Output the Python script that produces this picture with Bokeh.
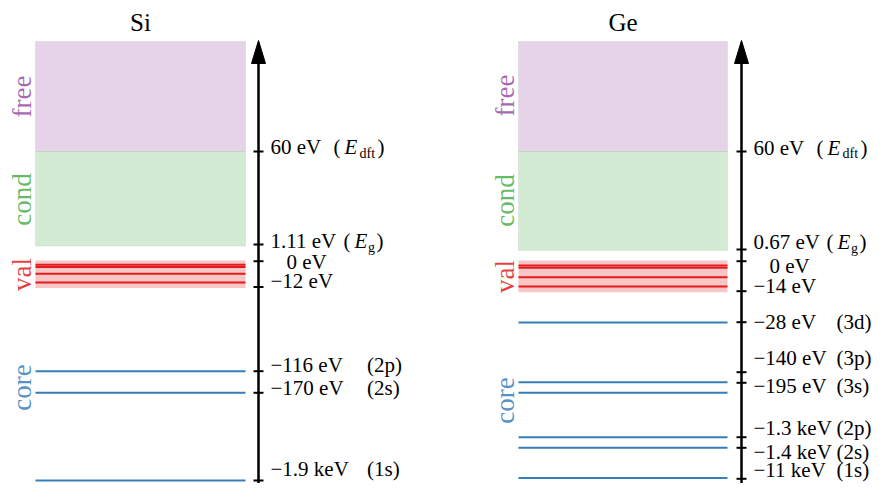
from bokeh.plotting import figure
from bokeh.models import Range1d, ColumnDataSource
from bokeh.core.properties import value
from bokeh.embed import file_html
from bokeh.resources import INLINE
import math

FONT = "Liberation Serif"

# ---------------- data (schematic energy-level diagram, not to scale) ----------------
# vertical coordinate = schematic depth units measured downward from the top
panels = ["Si", "Ge"]
box_left = [35, 518]
box_right = [245, 727]
axis_x = [258, 741]
arrow_top = [40, 40]
free_top = [41, 41]
dft_level = [151, 151]
gap_level = [245.5, 250]
val_top = [260, 260]
val_bottom = [287.5, 291.7]

si_val_lines = [264.3, 266.6, 273.3, 282.0]
ge_val_lines = [265.0, 267.3, 276.7, 286.0]
si_core_lines = [370.7, 392.3, 480.0]
ge_core_lines = [322.0, 381.7, 392.3, 436.7, 447.3, 477.5]

si_ticks = [151, 244, 260.7, 286.5, 370.7, 392.3, 480]
ge_ticks = [151, 249, 260.7, 290.7, 321.7, 371.7, 382.3, 436.7, 447.3, 478.3]

si_energy_labels = ["60 eV", "1.11 eV", "0 eV", "−12 eV", "−116 eV", "−170 eV", "−1.9 keV"]
ge_energy_labels = ["60 eV", "0.67 eV", "0 eV", "−14 eV", "−28 eV", "−140 eV",
                    "−195 eV", "−1.3 keV", "−1.4 keV", "−11 keV"]
si_label_level = [146.5, 240.5, 261.5, 280.0, 364.0, 387.0, 468.5]
ge_label_level = [147.0, 241.5, 265.5, 285.5, 321.5, 357.5, 385.5, 427.5, 451.5, 469.0]
si_orbitals = ["", "", "", "", "(2p)", "(2s)", "(1s)"]
ge_orbitals = ["", "", "", "", "(3d)", "(3p)", "(3s)", "(2p)", "(2s)", "(1s)"]
si_symbols = ["dft", "g", "", "", "", "", ""]
ge_symbols = ["dft", "g", "", "", "", "", "", "", "", ""]

region_names = ["free", "cond", "val", "core"]
region_colors = ["#984ea3", "#4daf4a", "#e41a1c", "#377eb8"]
si_region_label_level = [96, 199, 274, 387]
ge_region_label_level = [95, 200, 276, 400]

val_lines = [si_val_lines, ge_val_lines]
core_lines = [si_core_lines, ge_core_lines]
ticks = [si_ticks, ge_ticks]
energy_labels = [si_energy_labels, ge_energy_labels]
label_level = [si_label_level, ge_label_level]
orbitals = [si_orbitals, ge_orbitals]
symbols = [si_symbols, ge_symbols]
region_label_level = [si_region_label_level, ge_region_label_level]

# ---------------- styles ----------------
LABEL_GAP = 12          # distance of labels from the axis
PHANTOM_MINUS = 16      # indent of labels without a minus sign
ORBITAL_COL = [96.5, 83]  # column of orbital labels, relative to label start
TICK_HALF = 5
HEAD_HALF = 7
HEAD_LEN = 23
REGION_LABEL_SHIFT = 14
sym_offsets = {"dft": (63, 74, 89, 107), "g": (73, 84, 97.5, 106)}
FS = "21px"

p = figure(width=873, height=483, x_range=Range1d(0, 873), y_range=Range1d(483, 0),
           x_axis_type=None, y_axis_type=None, toolbar_location=None,
           output_backend="svg", min_border=0)
p.outline_line_color = None
p.grid.visible = False
p.background_fill_color = "white"
p.border_fill_color = "white"

for i, name in enumerate(panels):
    L, R, ax = box_left[i], box_right[i], axis_x[i]
    # regions
    p.quad(left=[L], right=[R], top=[free_top[i]], bottom=[dft_level[i]],
           fill_color=region_colors[0], fill_alpha=0.25, line_color="#bbbbbb", line_alpha=0.25, line_width=1)
    p.quad(left=[L], right=[R], top=[dft_level[i]], bottom=[gap_level[i]],
           fill_color=region_colors[1], fill_alpha=0.25, line_color="#bbbbbb", line_alpha=0.25, line_width=1)
    p.quad(left=[L], right=[R], top=[val_top[i]], bottom=[val_bottom[i]],
           fill_color=region_colors[2], fill_alpha=0.25, line_color=None)
    vl = val_lines[i]
    p.segment(x0=[L] * len(vl), x1=[R] * len(vl), y0=vl, y1=vl,
              line_color=region_colors[2], line_width=2)
    cl = core_lines[i]
    p.segment(x0=[L] * len(cl), x1=[R] * len(cl), y0=cl, y1=cl,
              line_color=region_colors[3], line_width=2)

    # title
    p.text(x=[(L + R) / 2], y=[22], text=[name], text_font=value(FONT),
           text_font_size="25px", text_align="center", text_baseline="middle",
           text_color="black")

    # region labels (vertical)
    p.text(x=[L - REGION_LABEL_SHIFT] * 4, y=region_label_level[i], text=region_names,
           text_color=region_colors, text_alpha=0.85, angle=math.pi / 2,
           text_font=value(FONT), text_font_size="27px",
           text_align="center", text_baseline="middle")

    # axis with arrow
    p.segment(x0=[ax], x1=[ax], y0=[arrow_top[i] + HEAD_LEN - 2], y1=[499],
              line_color="black", line_width=2.5)
    p.patch(x=[ax - HEAD_HALF, ax, ax + HEAD_HALF],
            y=[arrow_top[i] + HEAD_LEN, arrow_top[i], arrow_top[i] + HEAD_LEN],
            fill_color="black", line_color="black", line_width=1)
    tk = ticks[i]
    p.segment(x0=[ax - TICK_HALF] * len(tk), x1=[ax + TICK_HALF] * len(tk), y0=tk, y1=tk,
              line_color="black", line_width=2)

    # energy labels
    start = ax + LABEL_GAP
    labs = energy_labels[i]
    xs = [start + (PHANTOM_MINUS if t.startswith("0 ") else 0) for t in labs]
    src = ColumnDataSource(dict(x=xs, y=label_level[i], text=labs))
    p.text(x="x", y="y", text="text", source=src, text_font=value(FONT),
           text_font_size=FS, text_baseline="middle", text_color="black")

    # orbital labels
    ox, oy, ot = [], [], []
    for t, lvl in zip(orbitals[i], label_level[i]):
        if t:
            ox.append(start + ORBITAL_COL[i])
            oy.append(lvl)
            ot.append(t)
    p.text(x=ox, y=oy, text=ot, text_font=value(FONT), text_font_size=FS,
           text_baseline="middle", text_color="black")

    # symbols like (E_dft), (E_g)
    for s, lvl in zip(symbols[i], label_level[i]):
        if not s:
            continue
        o1, o2, o3, o4 = sym_offsets[s]
        p.text(x=[start + o1, start + o4], y=[lvl, lvl], text=["(", ")"],
               text_font=value(FONT), text_font_size=FS, text_baseline="middle")
        p.text(x=[start + o2], y=[lvl], text=["E"], text_font=value(FONT),
               text_font_style="italic", text_font_size=FS, text_baseline="middle")
        p.text(x=[start + o3], y=[lvl + 6], text=[s], text_font=value(FONT),
               text_font_size="14px", text_baseline="middle")

open("out.html", "w").write(file_html(p, INLINE))
